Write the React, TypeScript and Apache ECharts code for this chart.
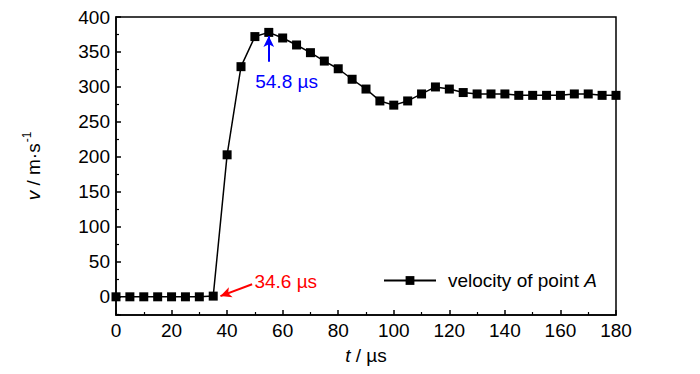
import React, { useEffect, useRef } from "react";
import * as echarts from "echarts";

const times = [0, 5, 10, 15, 20, 25, 30, 35, 40, 45, 50, 55, 60, 65, 70, 75, 80, 85, 90, 95, 100, 105, 110, 115, 120, 125, 130, 135, 140, 145, 150, 155, 160, 165, 170, 175, 180];
const velocity = [0, 0, 0, 0, 0, 0, 0, 1, 203, 329, 372, 378, 370, 360, 349, 337, 326, 311, 297, 280, 274, 280, 290, 300, 297, 292, 290, 290, 290, 288, 288, 288, 288, 290, 290, 288, 288];

const xTicks = { min: 0, max: 180, interval: 20 };
const yRange = { min: -26, max: 400 };

// annotations: [label, text position (t, v), arrow start, arrow end, colour]
const annoLabels = ["34.6 µs", "54.8 µs"];
const annoTextPos = [[50, 21], [50.3, 307]];
const annoArrowFrom = [[49, 18], [55, 336]];
const annoArrowTo = [[37.6, 1], [55, 373]];
const annoColors = ["#ff0000", "#0000ff"];

const FONT = "'Liberation Sans', Arial, sans-serif";
const FS = 19;

export default function App() {
  const ref = useRef<HTMLDivElement>(null);
  useEffect(() => {
    if (!ref.current) return;
    const chart = echarts.init(ref.current, undefined, { renderer: "svg" });
    const seriesData = times.map((t, i) => [t, velocity[i]]);
    chart.setOption({
      animation: false,
      backgroundColor: "#ffffff",
      textStyle: { fontFamily: FONT },
      grid: {
        left: 116,
        right: 84,
        top: 17,
        bottom: 59,
        show: true,
        borderColor: "#000",
        borderWidth: 1.5,
        backgroundColor: "transparent",
      },
      legend: {
        left: 378,
        top: 266,
        itemWidth: 52,
        itemHeight: 11,
        data: [{ name: "velocity of point A" }],
        formatter: () => "{a|velocity of point }{b|A}",
        textStyle: {
          fontFamily: FONT,
          fontSize: FS,
          color: "#000",
          rich: {
            a: { fontFamily: FONT, fontSize: FS, color: "#000", padding: [0, 0, 0, 7] },
            b: { fontFamily: FONT, fontSize: FS, color: "#000", fontStyle: "italic" },
          },
        },
      },
      xAxis: {
        type: "value",
        min: xTicks.min,
        max: xTicks.max,
        interval: xTicks.interval,
        name: "{i|t} / µs",
        nameLocation: "middle",
        nameGap: 31,
        nameTextStyle: {
          fontFamily: FONT,
          fontSize: FS,
          color: "#000",
          rich: {
            i: { fontFamily: FONT, fontSize: FS, color: "#000", fontStyle: "italic" },
          },
        },
        axisLine: { show: true, onZero: false, lineStyle: { color: "#000", width: 1.5 } },
        axisTick: { show: true, inside: true, length: 5, lineStyle: { color: "#000", width: 1.5 } },
        minorTick: { show: true, splitNumber: 2, length: 3, lineStyle: { color: "#000", width: 1.2 } },
        axisLabel: { fontFamily: FONT, fontSize: FS, color: "#000", margin: 6 },
        splitLine: { show: false },
        minorSplitLine: { show: false },
      },
      yAxis: {
        type: "value",
        min: yRange.min,
        max: yRange.max,
        splitNumber: 9,
        name: "{i|v} / m·s{s|-1}",
        nameLocation: "middle",
        nameRotate: 90,
        nameGap: 71,
        nameTextStyle: {
          fontFamily: FONT,
          fontSize: FS,
          color: "#000",
          rich: {
            i: { fontFamily: FONT, fontSize: FS, color: "#000", fontStyle: "italic" },
            s: { fontFamily: FONT, fontSize: 12, color: "#000", verticalAlign: "top", padding: [0, 0, 12, 1] },
          },
        },
        axisLine: { show: true, onZero: false, lineStyle: { color: "#000", width: 1.5 } },
        axisTick: { show: true, inside: true, length: 5, lineStyle: { color: "#000", width: 1.5 } },
        minorTick: { show: true, splitNumber: 2, length: 3, lineStyle: { color: "#000", width: 1.2 } },
        axisLabel: { fontFamily: FONT, fontSize: FS, color: "#000", margin: 6, showMinLabel: false },
        splitLine: { show: false },
        minorSplitLine: { show: false },
      },
      series: [
        {
          name: "velocity of point A",
          type: "line",
          data: seriesData,
          symbol: "rect",
          symbolSize: 9,
          showAllSymbol: true,
          itemStyle: { color: "#000" },
          lineStyle: { color: "#000", width: 1.5 },
          markLine: {
            silent: true,
            symbol: ["none", "arrow"],
            symbolSize: [8, 11],
            label: { show: false },
            data: annoLabels.map((_, i) => [
              { coord: annoArrowFrom[i], lineStyle: { color: annoColors[i], width: 2, type: "solid" } },
              { coord: annoArrowTo[i], lineStyle: { color: annoColors[i], width: 2, type: "solid" } },
            ]),
          },
          markPoint: {
            silent: true,
            symbol: "circle",
            symbolSize: 1,
            itemStyle: { color: "transparent" },
            data: annoLabels.map((txt, i) => ({
              coord: annoTextPos[i],
              label: {
                show: true,
                position: [0, 0],
                align: "left",
                verticalAlign: "middle",
                formatter: txt,
                fontFamily: FONT,
                fontSize: FS,
                color: annoColors[i],
              },
            })),
          },
        },
      ],
    });
    return () => chart.dispose();
  }, []);
  return <div ref={ref} style={{ width: 700, height: 374, margin: -8 }} />;
}
